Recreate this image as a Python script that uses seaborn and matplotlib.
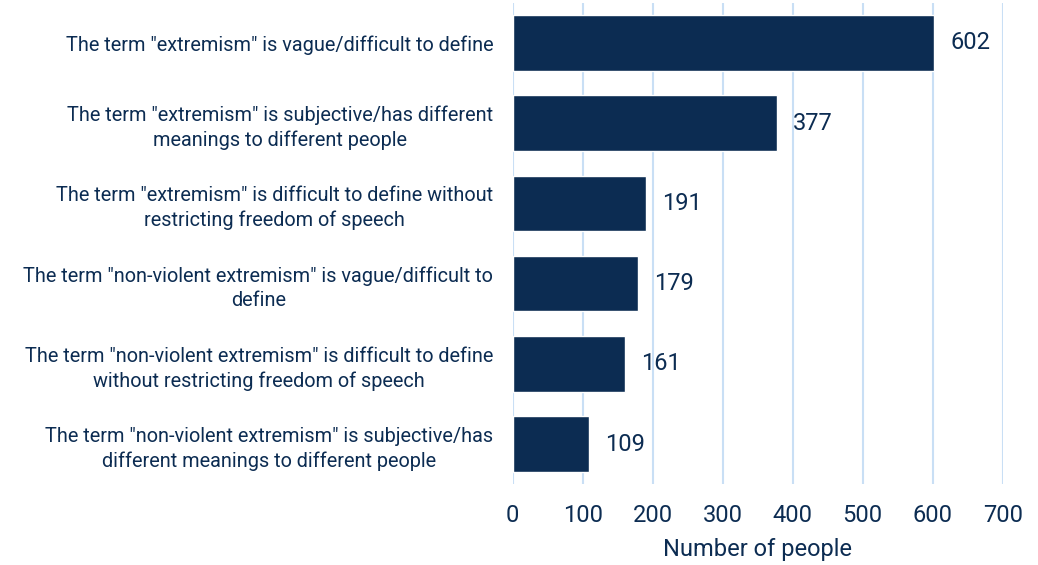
import pandas as pd
import matplotlib.pyplot as plt
import seaborn as sns

# ---- data ----
reasons = [
    'The term "extremism" is vague/difficult to define',
    'The term "extremism" is subjective/has different\nmeanings to different people',
    'The term "extremism" is difficult to define without\nrestricting freedom of speech',
    'The term "non-violent extremism" is vague/difficult to\ndefine',
    'The term "non-violent extremism" is difficult to define\nwithout restricting freedom of speech',
    'The term "non-violent extremism" is subjective/has\ndifferent meanings to different people',
]
counts = [602, 377, 191, 179, 161, 109]

df = pd.DataFrame({"reason": reasons, "count": counts})

NAVY = "#0c2c52"
GRID = "#c9dff5"

sns.set_style("white")
plt.rcParams["font.family"] = ["Roboto", "DejaVu Sans"]

fig = plt.figure(figsize=(10.38, 5.65), dpi=100)
ax = fig.add_axes([0.494, 0.143, 0.472, 0.852])

sns.barplot(data=df, x="count", y="reason", color=NAVY, width=0.69,
            saturation=1, ax=ax, zorder=3)

ax.set_xlim(0, 700)
ax.set_ylim(5.5, -0.5)
ax.set_xticks(range(0, 701, 100))
ax.grid(True, axis="x", color=GRID, linewidth=1.5, zorder=0)
ax.set_axisbelow(True)
for s in ax.spines.values():
    s.set_visible(False)

ax.tick_params(axis="x", length=0, labelsize=17, colors=NAVY, pad=14)
ax.tick_params(axis="y", length=0, labelsize=14.3, colors=NAVY, pad=14)
for lab in ax.get_yticklabels():
    lab.set_multialignment("center")
    lab.set_linespacing(1.35)
ax.set_xlabel("Number of people", fontsize=17, color=NAVY, labelpad=8)
ax.set_ylabel("")

for i, v in enumerate(counts):
    ax.text(v + 23, i, str(v), va="center", ha="left", fontsize=17, color=NAVY)

fig.savefig("out.png", dpi=100)
